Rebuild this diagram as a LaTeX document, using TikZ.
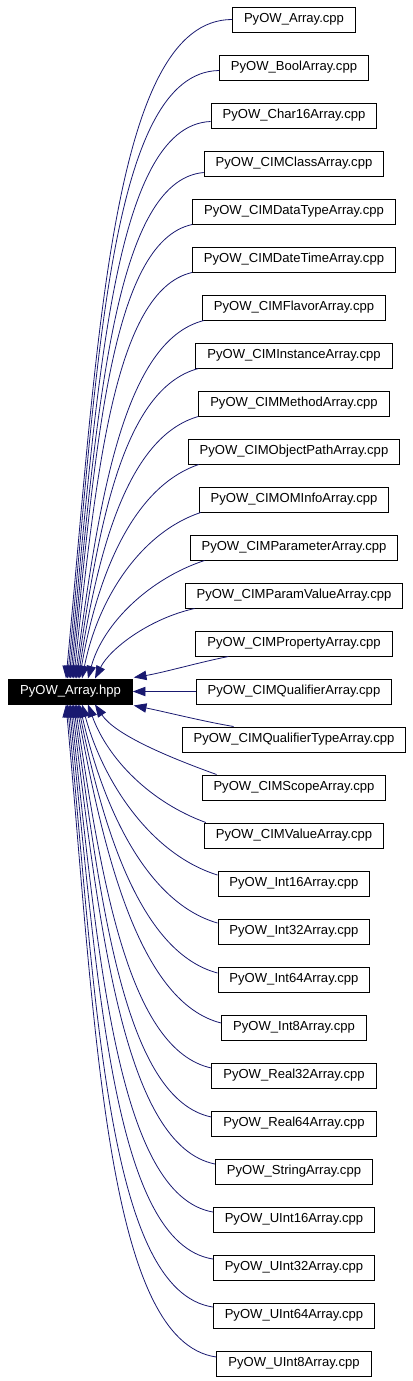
\documentclass[tikz,border=0pt]{standalone}
\usepackage{fontspec}
\setmainfont{Liberation Sans}
\usetikzlibrary{arrows.meta,calc}
\definecolor{edgeblue}{RGB}{25,25,112}
\begin{document}
\begin{tikzpicture}[x=0.75pt,y=-0.75pt,
 file/.style={draw=black,line width=0.75pt,fill=white,inner xsep=8.6pt,inner ysep=0pt,minimum height=18.75pt,font=\fontsize{9.8pt}{11pt}\selectfont},
 root/.style={file,fill=black,text=white},
 dep/.style={draw=edgeblue,line width=0.6pt,-{Triangle[length=9.5pt,width=7pt]}}]
\useasboundingbox (0,0) rectangle (413,1381);
\node[root] (hpp) at (70.5,691.5) {PyOW\_Array.hpp};
\foreach \i/\t in {0/Array,1/BoolArray,2/Char16Array,3/CIMClassArray,4/CIMDataTypeArray,5/CIMDateTimeArray,6/CIMFlavorArray,7/CIMInstanceArray,8/CIMMethodArray,9/CIMObjectPathArray,10/CIMOMInfoArray,11/CIMParameterArray,12/CIMParamValueArray,13/CIMPropertyArray,14/CIMQualifierArray,15/CIMQualifierTypeArray,16/CIMScopeArray,17/CIMValueArray,18/Int16Array,19/Int32Array,20/Int64Array,21/Int8Array,22/Real32Array,23/Real64Array,24/StringArray,25/UInt16Array,26/UInt32Array,27/UInt64Array,28/UInt8Array}
  \node[file] (n\i) at (294,19.5+48*\i) {PyOW\_\t.cpp};
% upper edges
\draw[dep] (n0.west) .. controls +(-120,0) and +(32,-340) .. ($(hpp.north)+(-4.5,0)$);
\draw[dep] ($(n1.west)+(0,3)$) .. controls +(-110,2) and +(30,-310) .. ($(hpp.north)+(-3,0)$);
\draw[dep] ($(n2.west)+(0,6)$) .. controls +(-100,4) and +(28,-280) .. ($(hpp.north)+(-1.5,0)$);
\draw[dep] ($(n3.west)+(0,9)$) .. controls +(-92,8) and +(26,-255) .. (hpp.north);
\draw[dep] (n4.south west) .. controls +(-82,18) and +(24,-230) .. ($(hpp.north)+(1.5,0)$);
\draw[dep] (n5.south west) .. controls +(-78,18) and +(23,-205) .. ($(hpp.north)+(3,0)$);
\draw[dep] ($(n6.south west)+(2,0)$) .. controls +(-80,20) and +(24,-180) .. ($(hpp.north)+(4.5,0)$);
\draw[dep] ($(n7.south west)+(3,0)$) .. controls +(-75,20) and +(22,-155) .. ($(hpp.north)+(6,0)$);
\draw[dep] (n8.south west) .. controls +(-70,20) and +(20,-130) .. ($(hpp.north)+(7.5,0)$);
\draw[dep] ($(n9.south west)+(11,0)$) .. controls +(-65,22) and +(18,-105) .. ($(hpp.north)+(9,0)$);
\draw[dep] ($(n10.south west)+(2,0)$) .. controls +(-60,20) and +(16,-80) .. ($(hpp.north)+(11.5,0)$);
\draw[dep] ($(n11.south west)+(15,0)$) .. controls +(-55,18) and +(15,-55) .. ($(hpp.north)+(17.5,0)$);
\draw[dep] ($(n12.south west)+(10,0)$) .. controls +(-45,10) and +(15,-30) .. ($(hpp.north)+(24.5,0)$);
\draw[dep] ($(n13.south west)+(33,0)$) .. controls +(-30,6) and +(30,-5) .. ($(hpp.north east)+(1,-1)$);
% middle
\draw[dep] (n14.west) -- (hpp.east);
% lower edges
\draw[dep] ($(n15.north west)+(52,0)$) .. controls +(-30,-5) and +(30,6) .. ($(hpp.south east)+(1,1)$);
\draw[dep] ($(n16.north west)+(15,0)$) .. controls +(-50,-18) and +(20,30) .. ($(hpp.south)+(24.5,0)$);
\draw[dep] ($(n17.north west)+(2,0)$) .. controls +(-55,-20) and +(20,55) .. ($(hpp.south)+(17.5,0)$);
\draw[dep] ($(n18.west)+(0,-8.5)$) .. controls +(-65,-20) and +(22,80) .. ($(hpp.south)+(11.5,0)$);
\draw[dep] ($(n19.west)+(0,-8.5)$) .. controls +(-70,-20) and +(24,105) .. ($(hpp.south)+(9,0)$);
\draw[dep] ($(n20.west)+(0,-6.5)$) .. controls +(-75,-20) and +(26,130) .. ($(hpp.south)+(7.5,0)$);
\draw[dep] ($(n21.west)+(0,-4.5)$) .. controls +(-80,-20) and +(28,155) .. ($(hpp.south)+(6,0)$);
\draw[dep] ($(n22.west)+(0,-7.5)$) .. controls +(-82,-18) and +(27,180) .. ($(hpp.south)+(4.5,0)$);
\draw[dep] ($(n23.west)+(0,-6.5)$) .. controls +(-86,-18) and +(28,205) .. ($(hpp.south)+(3,0)$);
\draw[dep] ($(n24.west)+(0,-7.5)$) .. controls +(-90,-18) and +(28,230) .. ($(hpp.south)+(1.5,0)$);
\draw[dep] ($(n25.west)+(0,-7.5)$) .. controls +(-95,-17) and +(28,255) .. (hpp.south);
\draw[dep] ($(n26.west)+(0,-8.5)$) .. controls +(-100,-16) and +(29,280) .. ($(hpp.south)+(-1.5,0)$);
\draw[dep] ($(n27.west)+(0,-8.5)$) .. controls +(-105,-16) and +(29,305) .. ($(hpp.south)+(-3,0)$);
\draw[dep] ($(n28.west)+(0,-6.5)$) .. controls +(-110,-15) and +(30,330) .. ($(hpp.south)+(-4.5,0)$);
\end{tikzpicture}
\end{document}
